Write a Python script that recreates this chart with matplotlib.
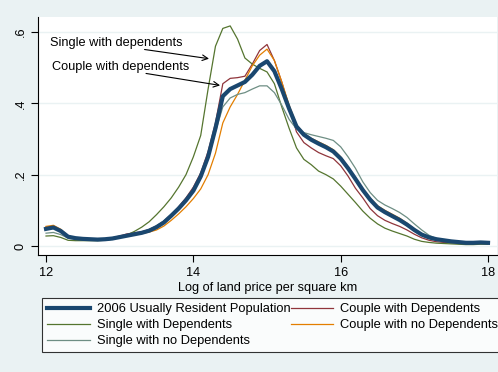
import numpy as np
import matplotlib
matplotlib.use("Agg")
import matplotlib.pyplot as plt

plt.rcParams['font.family'] = ['Liberation Sans', 'DejaVu Sans']

# log land price grid (x) and density of each group
log_price = [12.0, 12.1, 12.2, 12.3, 12.4, 12.5, 12.6, 12.7, 12.8, 12.9,
             13.0, 13.1, 13.2, 13.3, 13.4, 13.5, 13.6, 13.7, 13.8, 13.9,
             14.0, 14.1, 14.2, 14.3, 14.4, 14.5, 14.6, 14.7, 14.8, 14.9,
             15.0, 15.1, 15.2, 15.3, 15.4, 15.5, 15.6, 15.7, 15.8, 15.9,
             16.0, 16.1, 16.2, 16.3, 16.4, 16.5, 16.6, 16.7, 16.8, 16.9,
             17.0, 17.1, 17.2, 17.3, 17.4, 17.5, 17.6, 17.7, 17.8, 17.9,
             18.0]

usual_resident = [0.048, 0.052, 0.042, 0.026, 0.022, 0.020, 0.019, 0.018, 0.019, 0.021,
                  0.025, 0.029, 0.033, 0.037, 0.043, 0.053, 0.066, 0.085, 0.105, 0.128,
                  0.155, 0.195, 0.250, 0.330, 0.420, 0.440, 0.450, 0.460, 0.480, 0.505,
                  0.518, 0.490, 0.440, 0.385, 0.335, 0.312, 0.298, 0.287, 0.277, 0.265,
                  0.245, 0.218, 0.188, 0.157, 0.130, 0.108, 0.095, 0.084, 0.073, 0.060,
                  0.045, 0.032, 0.024, 0.019, 0.016, 0.013, 0.011, 0.009, 0.009, 0.010,
                  0.009]

couple_dep = [0.053, 0.055, 0.045, 0.027, 0.023, 0.021, 0.020, 0.019, 0.020, 0.023,
              0.028, 0.034, 0.037, 0.040, 0.046, 0.056, 0.070, 0.088, 0.110, 0.135,
              0.165, 0.205, 0.265, 0.345, 0.455, 0.470, 0.472, 0.476, 0.510, 0.548,
              0.565, 0.520, 0.460, 0.390, 0.320, 0.290, 0.275, 0.262, 0.253, 0.245,
              0.225, 0.196, 0.162, 0.135, 0.105, 0.085, 0.072, 0.063, 0.055, 0.045,
              0.033, 0.023, 0.016, 0.012, 0.010, 0.009, 0.008, 0.006, 0.006, 0.007,
              0.007]

single_dep = [0.028, 0.029, 0.024, 0.016, 0.015, 0.015, 0.015, 0.015, 0.016, 0.019,
              0.024, 0.031, 0.041, 0.053, 0.068, 0.088, 0.110, 0.135, 0.165, 0.200,
              0.250, 0.310, 0.440, 0.560, 0.610, 0.617, 0.580, 0.527, 0.510, 0.498,
              0.488, 0.455, 0.390, 0.330, 0.275, 0.243, 0.228, 0.210, 0.200, 0.188,
              0.168, 0.145, 0.122, 0.098, 0.078, 0.062, 0.050, 0.042, 0.035, 0.028,
              0.019, 0.013, 0.010, 0.008, 0.007, 0.006, 0.005, 0.004, 0.004, 0.005,
              0.005]

couple_nodep = [0.055, 0.058, 0.047, 0.028, 0.023, 0.021, 0.020, 0.019, 0.020, 0.022,
                0.026, 0.029, 0.032, 0.035, 0.039, 0.045, 0.056, 0.072, 0.090, 0.110,
                0.133, 0.160, 0.200, 0.260, 0.345, 0.390, 0.425, 0.465, 0.505, 0.535,
                0.552, 0.520, 0.460, 0.395, 0.340, 0.315, 0.302, 0.292, 0.282, 0.270,
                0.250, 0.222, 0.190, 0.160, 0.134, 0.113, 0.100, 0.089, 0.078, 0.064,
                0.048, 0.034, 0.025, 0.019, 0.016, 0.013, 0.011, 0.009, 0.009, 0.010,
                0.009]

single_nodep = [0.036, 0.038, 0.032, 0.022, 0.019, 0.018, 0.017, 0.017, 0.018, 0.021,
                0.025, 0.029, 0.034, 0.039, 0.046, 0.056, 0.070, 0.088, 0.108, 0.130,
                0.155, 0.190, 0.245, 0.320, 0.390, 0.415, 0.425, 0.430, 0.440, 0.449,
                0.449, 0.430, 0.395, 0.355, 0.328, 0.318, 0.312, 0.307, 0.302, 0.296,
                0.278, 0.250, 0.218, 0.180, 0.150, 0.128, 0.115, 0.105, 0.094, 0.080,
                0.062, 0.045, 0.030, 0.021, 0.016, 0.013, 0.011, 0.010, 0.010, 0.011,
                0.011]

x_ticks = [12, 14, 16, 18]
y_ticks = [0, 0.2, 0.4, 0.6]
y_ticklabels = ['0', '.2', '.4', '.6']

# stata s2color look
bg = '#EAF2F3'
fig = plt.figure(figsize=(4.98, 3.72), dpi=100, facecolor=bg)
ax = fig.add_axes([38 / 498, 1 - 255 / 372, 459 / 498, 238 / 372])
ax.set_facecolor('white')

l1, = ax.plot(log_price, usual_resident, color='#1A476F', lw=3.0,
              label='2006 Usually Resident Population', zorder=5)
l2, = ax.plot(log_price, couple_dep, color='#90353B', lw=0.9, label='Couple with Dependents')
l3, = ax.plot(log_price, single_dep, color='#55752F', lw=0.9, label='Single with Dependents')
l4, = ax.plot(log_price, couple_nodep, color='#E37E00', lw=0.9, label='Couple with no Dependents')
l5, = ax.plot(log_price, single_nodep, color='#6E8E84', lw=0.9, label='Single with no Dependents')

# annotations with arrows
ax.annotate('', xy=(14.25, 0.524), xytext=(13.30, 0.552),
            arrowprops=dict(arrowstyle='->', color='black', lw=0.8))
ax.annotate('', xy=(14.40, 0.449), xytext=(13.32, 0.485),
            arrowprops=dict(arrowstyle='->', color='black', lw=0.8))
ax.text(12.05, 0.569, 'Single with dependents', fontsize=9.2, va='center')
ax.text(12.08, 0.502, 'Couple with dependents', fontsize=9.2, va='center')

ax.set_xlim(11.891, 18.122)
ax.set_ylim(-0.0252, 0.642)
ax.set_xticks(x_ticks)
ax.set_xticklabels([str(t) for t in x_ticks])
ax.set_yticks(y_ticks)
ax.set_yticklabels(y_ticklabels, rotation=90, va='center')
ax.tick_params(labelsize=9.2, length=5, width=0.8, color='black')
ax.tick_params(axis='y', pad=3)
ax.grid(axis='y', color=bg, lw=1.0)
ax.set_axisbelow(True)
for s in ['top', 'right']:
    ax.spines[s].set_visible(False)
ax.set_xlabel('Log of land price per square km', fontsize=9.2, labelpad=2)

# legend fills column-wise, so order handles to get the row-wise stata layout
handles = [l1, l3, l5, l2, l4]
leg = ax.legend(handles=handles, labels=[h.get_label() for h in handles],
                loc='upper left', bbox_to_anchor=(42 / 498, 1 - 298 / 372),
                bbox_transform=fig.transFigure, ncol=2, fontsize=9.3,
                frameon=True, fancybox=False, edgecolor='black',
                handlelength=3.3, handletextpad=0.55, columnspacing=0.0,
                labelspacing=0.3, borderpad=0.4, borderaxespad=0)
leg.get_frame().set_linewidth(0.8)

fig.savefig('out.png', dpi=100, facecolor=bg)
